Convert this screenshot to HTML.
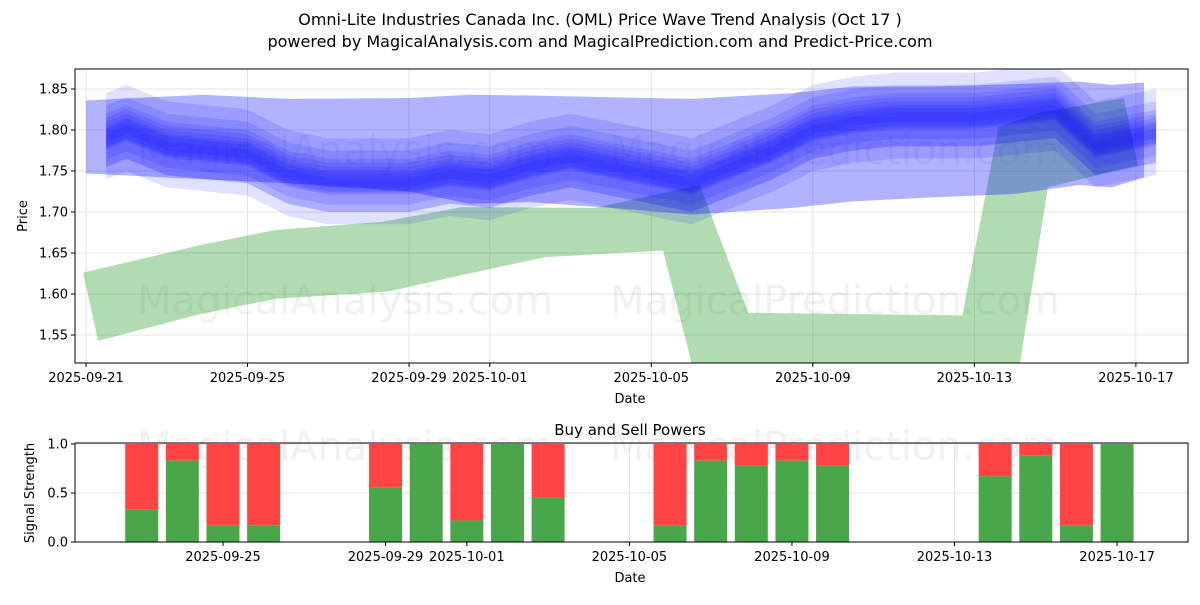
<!DOCTYPE html>
<html><head><meta charset="utf-8">
<style>
body{margin:0;background:#fff;width:1200px;height:600px;overflow:hidden;font-family:"Liberation Sans","DejaVu Sans",sans-serif;}
svg text{font-family:"DejaVu Sans","Liberation Sans",sans-serif;}
</style></head>
<body>
<svg id="chart" width="1200" height="600" xmlns="http://www.w3.org/2000/svg">
<text x="600" y="25" font-size="16" text-anchor="middle">Omni-Lite Industries Canada Inc. (OML) Price Wave Trend Analysis (Oct 17 )</text>
<text x="600" y="47" font-size="16" text-anchor="middle">powered by MagicalAnalysis.com and MagicalPrediction.com and Predict-Price.com</text>
<g id="topgrp"></g>
<g id="botgrp"></g>
</svg>
<script>
// ---- data ----
const xTickLabels=["2025-09-21","2025-09-25","2025-09-29","2025-10-01","2025-10-05","2025-10-09","2025-10-13","2025-10-17"];
const xTickDays=[0,4,8,10,14,18,22,26];
const yTicks=[1.55,1.60,1.65,1.70,1.75,1.80,1.85];
const greenUpperDays=[-0.07,2.87,4.68,7.33,9.31,12.6,15.2,16.4,21.7,22.6,23.6,25.7,26.05];
const greenUpper=[1.626,1.660,1.678,1.688,1.706,1.705,1.733,1.577,1.574,1.804,1.821,1.839,1.757];
const greenLowerDays=[0.3,2.87,4.68,7.48,9.31,11.37,14.29,15.08,23.08,23.82,26.03];
const greenLower=[1.543,1.576,1.594,1.603,1.623,1.645,1.653,1.50,1.50,1.730,1.757];
const outerDays=[0,2.9,5,8,9.5,11,13,15,17.5,19,21,23,24.6,25.4,26.2];
const outerUpper=[1.836,1.843,1.838,1.839,1.843,1.842,1.840,1.838,1.845,1.853,1.853,1.856,1.859,1.855,1.858];
const outerLower=[1.747,1.740,1.735,1.725,1.710,1.712,1.705,1.697,1.705,1.713,1.718,1.722,1.733,1.730,1.742];
const waveDays=[0.5,1,2,3,4,5,6,7,8,9,10,11,12,13,14,15,16,17,18,19,20,21,22,23,24,25,26,26.5];
const waveCenter=[1.79,1.80,1.78,1.775,1.77,1.745,1.735,1.735,1.735,1.745,1.74,1.755,1.765,1.755,1.745,1.735,1.755,1.775,1.80,1.81,1.815,1.815,1.815,1.82,1.825,1.78,1.79,1.795];
const barDays=[2,3,4,5,8,9,10,11,12,15,16,17,18,19,23,24,25,26];
const buyPower=[0.33,0.83,0.17,0.17,0.56,1.0,0.22,1.0,0.45,0.17,0.83,0.78,0.83,0.78,0.67,0.88,0.17,1.0];
const bTickLabels=["2025-09-25","2025-09-29","2025-10-01","2025-10-05","2025-10-09","2025-10-13","2025-10-17"];
const bTickDays=[4,8,10,14,18,22,26];
const bYTicks=[0,0.5,1.0];

const NS="http://www.w3.org/2000/svg";
function mk(parent,tag,attrs,text){const e=document.createElementNS(NS,tag);for(const k in attrs)e.setAttribute(k,attrs[k]);if(text!==undefined)e.textContent=text;parent.appendChild(e);return e;}
const L=75,R=1188,T=69,B=363;
const xs=d=>86+d*40.38;
const ys=p=>89+(1.85-p)*820;
const topG=document.getElementById('topgrp');
const clip=mk(topG,'clipPath',{id:'clipTop'});mk(clip,'rect',{x:L,y:T,width:R-L,height:B-T});
const bclip=mk(topG,'clipPath',{id:'clipBot'});mk(bclip,'rect',{x:L,y:443,width:R-L,height:99});
yTicks.forEach(v=>{const g=mk(topG,'line',{x1:L,x2:R,y1:ys(v),y2:ys(v),stroke:'#e3e3e3','stroke-width':1});

});
xTickDays.forEach(d=>{const g=mk(topG,'line',{x1:xs(d),x2:xs(d),y1:T,y2:B,stroke:'#e3e3e3','stroke-width':1});

});
[[345,150,'MagicalAnalysis.com'],[835,150,'MagicalPrediction.com'],[345,300,'MagicalAnalysis.com'],[835,300,'MagicalPrediction.com'],[345,446,'MagicalAnalysis.com'],[835,446,'MagicalPrediction.com']].forEach(w=>{
const t=mk(topG,'text',{x:w[0],y:w[1]+14,'font-size':40,'text-anchor':'middle',fill:'rgba(120,120,140,0.10)'},w[2]);

});
const plot=mk(topG,'g',{'clip-path':'url(#clipTop)'});


function band(days1,up,days2,lo,fill,op,name){
 let pts=days1.map((d,i)=>xs(d)+','+ys(up[i]));
 for(let i=days2.length-1;i>=0;i--)pts.push(xs(days2[i])+','+ys(lo[i]));
 const p=mk(plot,'polygon',{points:pts.join(' '),fill:fill,'fill-opacity':op});
 
 
 return p;}
band(greenUpperDays,greenUpper,greenLowerDays,greenLower,'#2ca02c',0.37,'green-trend-band');
band(outerDays,outerUpper,outerDays,outerLower,'#0000ff',0.3,'blue-outer-band');
const layers=[[0.045,0.01],[0.03,-0.005],[0.022,0.008],[0.016,-0.01],[0.012,0.0],[0.025,0.015],[0.01,0.005],[0.035,-0.015]];
layers.forEach(l=>{band(waveDays,waveCenter.map(c=>c+l[1]+l[0]),waveDays,waveCenter.map(c=>c+l[1]-l[0]),'#0000ff',0.12,'blue-wave-band');});
mk(topG,'rect',{x:L,y:T,width:R-L,height:B-T,fill:'none',stroke:'#000','stroke-width':1});
yTicks.forEach(v=>{mk(topG,'line',{x1:L-4,x2:L,y1:ys(v),y2:ys(v),stroke:'#000'});
const t=mk(topG,'text',{x:L-7,y:ys(v)+4.5,'font-size':13,'text-anchor':'end'},v.toFixed(2));

});
xTickDays.forEach((d,i)=>{mk(topG,'line',{x1:xs(d),x2:xs(d),y1:B,y2:B+4,stroke:'#000'});
const t=mk(topG,'text',{x:xs(d),y:B+19,'font-size':13,'text-anchor':'middle'},xTickLabels[i]);

});
const xt=mk(topG,'text',{x:630,y:403,'font-size':13,'text-anchor':'middle'},'Date');


const yt=mk(topG,'text',{x:27,y:216,'font-size':13,'text-anchor':'middle',transform:'rotate(-90 27 216)'},'Price');


// bottom
const botG=document.getElementById('botgrp');
const BT=443,BB=542;
const bx=d=>223+(d-4)*40.64;
const by=v=>BB-v*98;
const bt=mk(botG,'text',{x:630,y:435,'font-size':15,'text-anchor':'middle'},'Buy and Sell Powers');


bYTicks.forEach(v=>{const g=mk(botG,'line',{x1:L,x2:R,y1:by(v),y2:by(v),stroke:'#e3e3e3'});

});
bTickDays.forEach(d=>{const g=mk(botG,'line',{x1:bx(d),x2:bx(d),y1:BT,y2:BB,stroke:'#e3e3e3'});

});
const bars=mk(botG,'g',{'clip-path':'url(#clipBot)'});
barDays.forEach((d,i)=>{const w=33;
const r=mk(bars,'rect',{x:bx(d)-w/2,y:by(1),width:w,height:by(buyPower[i])-by(1),fill:'#ff4444'});


const g=mk(bars,'rect',{x:bx(d)-w/2,y:by(buyPower[i]),width:w,height:BB-by(buyPower[i]),fill:'#4aa64a'});

});
mk(botG,'rect',{x:L,y:BT,width:R-L,height:BB-BT,fill:'none',stroke:'#000'});
bYTicks.forEach(v=>{mk(botG,'line',{x1:L-4,x2:L,y1:by(v),y2:by(v),stroke:'#000'});
const t=mk(botG,'text',{x:L-7,y:by(v)+4.5,'font-size':13,'text-anchor':'end'},v.toFixed(1));

});
bTickDays.forEach((d,i)=>{mk(botG,'line',{x1:bx(d),x2:bx(d),y1:BB,y2:BB+4,stroke:'#000'});
const t=mk(botG,'text',{x:bx(d),y:BB+19,'font-size':13,'text-anchor':'middle'},bTickLabels[i]);

});
const bxt=mk(botG,'text',{x:630,y:582,'font-size':13,'text-anchor':'middle'},'Date');


const byt=mk(botG,'text',{x:34,y:493,'font-size':13,'text-anchor':'middle',transform:'rotate(-90 34 493)'},'Signal Strength');


</script>
</body></html>
